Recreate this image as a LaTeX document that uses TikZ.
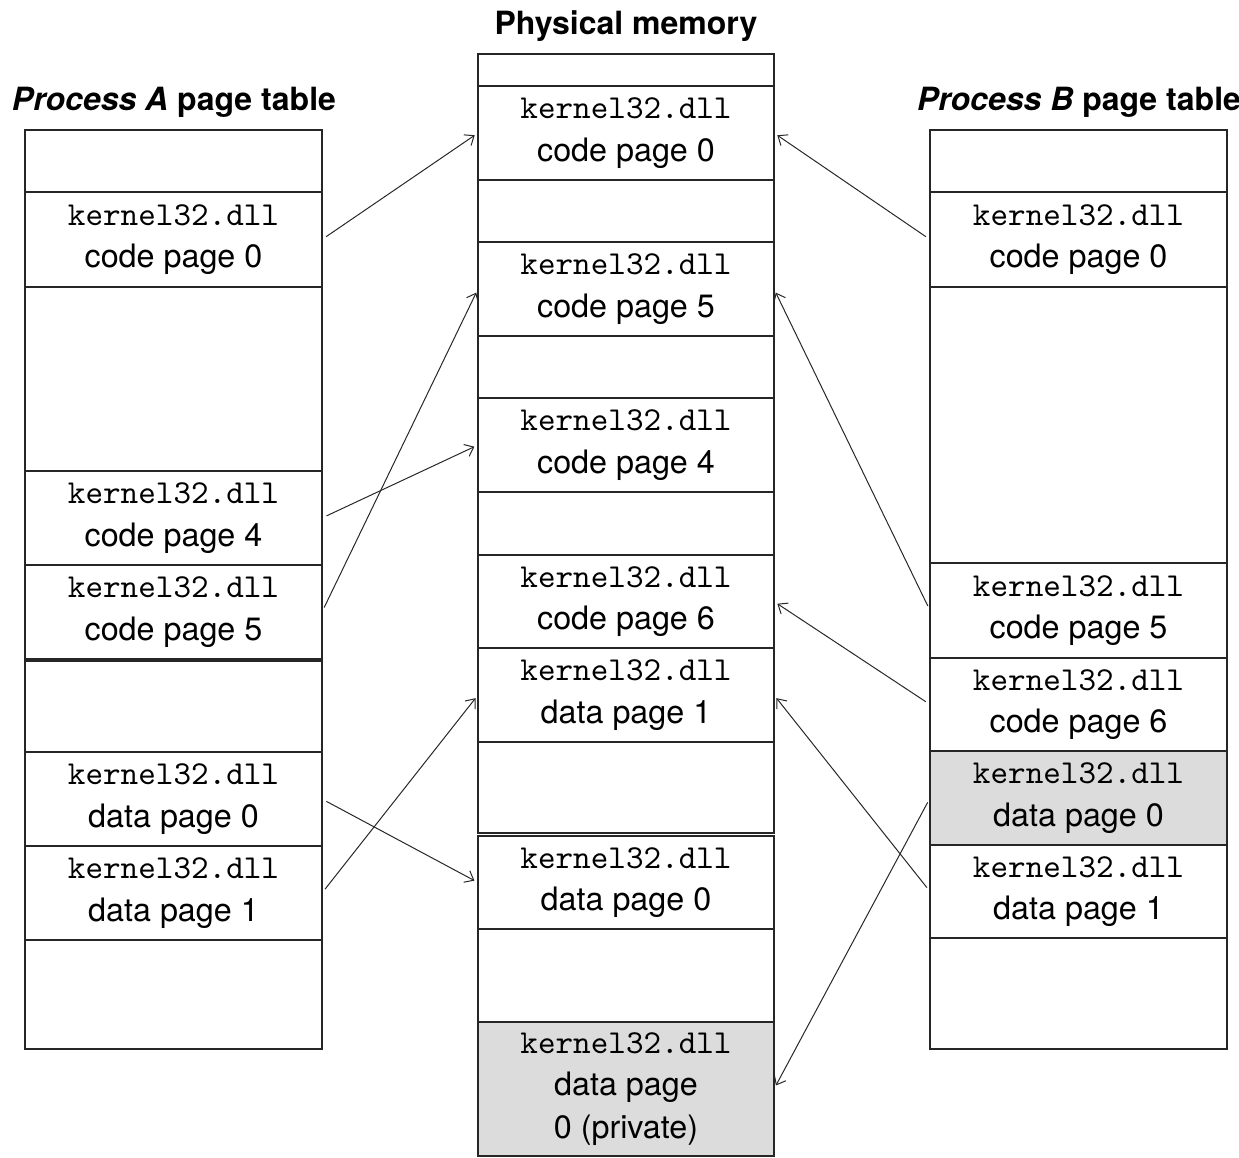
\documentclass[tikz,border=0pt]{standalone}
\usepackage{fontspec}
\setmainfont{TeX Gyre Heros}
\newfontfamily\dllfont{lmmono10-regular.otf}
\usetikzlibrary{arrows.meta}
\definecolor{privgray}{RGB}{220,220,220}
\definecolor{linkgray}{RGB}{40,40,40}
\tikzset{
  cell/.style={draw=black!85, line width=1.6pt, inner sep=0pt, outer sep=0pt,
    anchor=north west, align=center, font=\fontsize{32.3}{42.5}\selectfont},
  shared/.style={fill=privgray},
  title/.style={font=\fontsize{32}{38}\selectfont\bfseries, inner sep=0pt},
  link/.style={draw=linkgray, line width=1pt,
    -{Straight Barb[length=8pt,width=13pt,line width=1pt]},
    shorten <=5pt, shorten >=4pt},
}
% \pcell{name}{left x}{width}{top y}{bottom y}{extra style}{text}
\newcommand\pcell[7]{%
  \node[cell,#6, minimum width={#3 pt}, minimum height={(#5-#4)*1pt}]
    (#1) at (#2,#4) {#7};}
\newcommand\dllname{{\dllfont\fontsize{33.5}{42.5}\selectfont kernel32.dll}}
\newcommand\kcode[1]{\dllname\\code page #1}
\newcommand\kdata[1]{\dllname\\data page #1}
\begin{document}
\begin{tikzpicture}[x=1pt,y=-1pt]
\useasboundingbox (0,0) rectangle (1239,1157);

% titles
\node[title] (tA) at (174,102) {\textit{Process A} page table};
\node[title] (tM) at (626,26) {Physical memory};
\node[title] (tB) at (1079,102) {\textit{Process B} page table};

% process A page table
\pcell{A0}{25}{297}{130}{192}{}{}
\pcell{A1}{25}{297}{192}{287}{}{\kcode{0}}
\pcell{A2}{25}{297}{287}{471}{}{}
\pcell{A3}{25}{297}{471}{565}{}{\kcode{4}}
\pcell{A4}{25}{297}{565}{659}{}{\kcode{5}}
\pcell{A5}{25}{297}{661}{752}{}{}
\pcell{A6}{25}{297}{752}{846}{}{\kdata{0}}
\pcell{A7}{25}{297}{846}{940}{}{\kdata{1}}
\pcell{A8}{25}{297}{940}{1049}{}{}

% physical memory
\pcell{M0}{478}{296}{54}{86}{}{}
\pcell{M1}{478}{296}{86}{180}{}{\kcode{0}}
\pcell{M2}{478}{296}{180}{242}{}{}
\pcell{M3}{478}{296}{242}{336}{}{\kcode{5}}
\pcell{M4}{478}{296}{336}{398}{}{}
\pcell{M5}{478}{296}{398}{492}{}{\kcode{4}}
\pcell{M6}{478}{296}{492}{555}{}{}
\pcell{M7}{478}{296}{555}{648}{}{\kcode{6}}
\pcell{M8}{478}{296}{648}{742}{}{\kdata{1}}
\pcell{M9}{478}{296}{742}{833}{}{}
\pcell{M10}{478}{296}{836}{929}{}{\kdata{0}}
\pcell{M11}{478}{296}{929}{1022}{}{}
\pcell{M12}{478}{296}{1022}{1156}{shared}{\dllname\\data page\\0 (private)}

% process B page table
\pcell{B0}{930}{297}{130}{192}{}{}
\pcell{B1}{930}{297}{192}{287}{}{\kcode{0}}
\pcell{B2}{930}{297}{287}{563}{}{}
\pcell{B3}{930}{297}{563}{658}{}{\kcode{5}}
\pcell{B4}{930}{297}{658}{751}{}{\kcode{6}}
\pcell{B5}{930}{297}{751}{845}{shared}{\kdata{0}}
\pcell{B6}{930}{297}{845}{938}{}{\kdata{1}}
\pcell{B7}{930}{297}{938}{1049}{}{}

% mappings of process A
\draw[link] (A1.east) -- (M1.west);
\draw[link] (A3.east) -- (M5.west);
\draw[link] (A4.east) -- (M3.west);
\draw[link] (A6.east) -- (M10.west);
\draw[link] (A7.east) -- (M8.west);

% mappings of process B
\draw[link] (B1.west) -- (M1.east);
\draw[link] (B3.west) -- (M3.east);
\draw[link] (B4.west) -- (M7.east);
\draw[link] (B6.west) -- (M8.east);
\draw[link] (B5.west) -- (M12.east);
\end{tikzpicture}
\end{document}
